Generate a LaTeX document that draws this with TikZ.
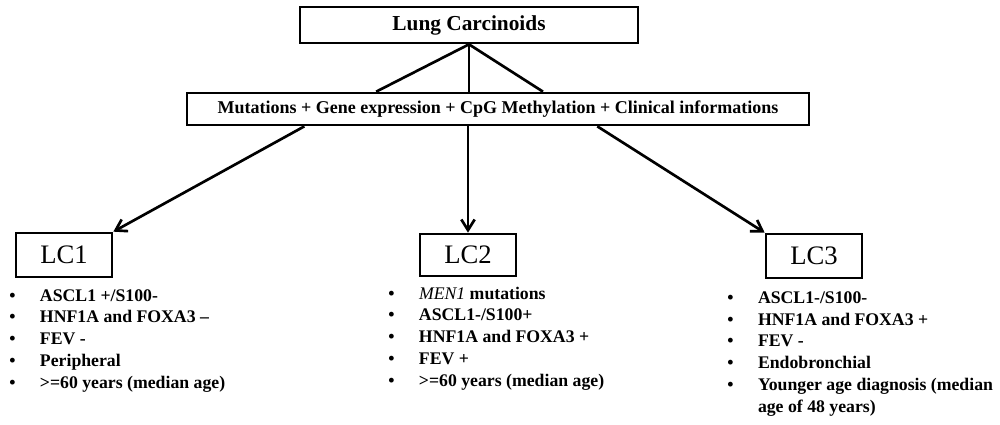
\documentclass[tikz,border=0pt]{standalone}
\usepackage{fontspec}
\setmainfont{Liberation Serif}
\usetikzlibrary{arrows.meta,calc}
\newcommand{\bitem}[1]{\makebox[23pt][l]{\textbullet}#1}
\newcommand{\bgap}{\makebox[23pt]{}}
\begin{document}
\begin{tikzpicture}[x=0.75pt,y=-0.75pt,line width=2pt,
    box/.style={draw,inner sep=0pt},
    lcbox/.style={box,minimum width=72pt,minimum height=33pt,font=\fontsize{20}{24}\selectfont},
    blist/.style={anchor=base west,inner sep=0pt,align=left,font=\bfseries\fontsize{13.3}{16.3}\selectfont},
    arr/.style={-{Straight Barb[length=8pt,width=10pt]}}]
  \useasboundingbox (0,0) rectangle (1000,425);
  % boxes
  \node[box,minimum width=253.5pt,minimum height=27pt,font=\bfseries\fontsize{16}{19}\selectfont] (lung) at (469,25) {Lung Carcinoids};
  \node[box,minimum width=466.5pt,minimum height=24pt,font=\bfseries\fontsize{13.5}{16}\selectfont] (data) at (498,109) {Mutations + Gene expression + CpG Methylation + Clinical informations};
  \node[lcbox] (lc1) at (64,255) {LC1};
  \node[lcbox,minimum height=31.5pt] (lc2) at (468,255) {LC2};
  \node[lcbox] (lc3) at (814,256) {LC3};
  % lists (anchored at the last baseline)
  \node[blist] (lc1list) at (8,388) {\bitem{ASCL1 +/S100-}\\ \bitem{HNF1A and FOXA3 --}\\ \bitem{FEV -}\\ \bitem{Peripheral}\\ \bitem{>=60 years (median age)}};
  \node[blist] (lc2list) at (387,386) {\bitem{{\mdseries\itshape MEN1} mutations}\\ \bitem{ASCL1-/S100+}\\ \bitem{HNF1A and FOXA3 +}\\ \bitem{FEV +}\\ \bitem{>=60 years (median age)}};
  \node[blist] (lc3list) at (726,412) {\bitem{ASCL1-/S100-}\\ \bitem{HNF1A and FOXA3 +}\\ \bitem{FEV -}\\ \bitem{Endobronchial}\\ \bitem{Younger age diagnosis (median}\\ \bgap age of 48 years)};
  % connectors
  \draw (lung.south) -- ($(data.north west)!0.305!(data.north east)$);
  \draw (lung.south) -- (data.north -| lung.south);
  \draw (lung.south) -- ($(data.north west)!0.572!(data.north east)$);
  \draw[arr] ($(data.south west)!0.19!(data.south east)$) -- (lc1.north east);
  \draw[arr] (data.south -| lc2.north) -- (lc2.north);
  \draw[arr] ($(data.south west)!0.659!(data.south east)$) -- (lc3.north west);
\end{tikzpicture}
\end{document}
